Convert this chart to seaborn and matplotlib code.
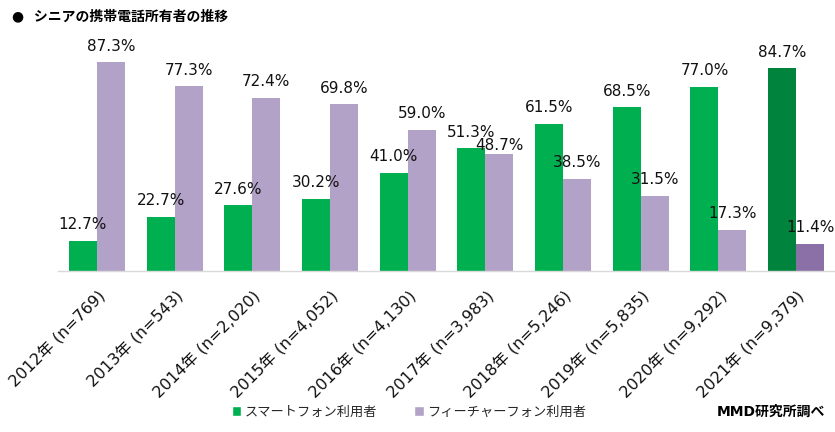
import matplotlib
matplotlib.use("Agg")
import matplotlib.pyplot as plt
import seaborn as sns
import pandas as pd
from matplotlib.patches import Patch

# データ（MMD研究所調べ）
years = ["2012年 (n=769)", "2013年 (n=543)", "2014年 (n=2,020)", "2015年 (n=4,052)",
         "2016年 (n=4,130)", "2017年 (n=3,983)", "2018年 (n=5,246)", "2019年 (n=5,835)",
         "2020年 (n=9,292)", "2021年 (n=9,379)"]
smartphone = [12.7, 22.7, 27.6, 30.2, 41.0, 51.3, 61.5, 68.5, 77.0, 84.7]
featurephone = [87.3, 77.3, 72.4, 69.8, 59.0, 48.7, 38.5, 31.5, 17.3, 11.4]
series_names = ["スマートフォン利用者", "フィーチャーフォン利用者"]

GREEN = "#00B050"
PURPLE = "#B3A2C7"
GREEN_DARK = "#00843D"
PURPLE_DARK = "#8B70A8"

sns.set_theme(style="white")
plt.rcParams["font.family"] = ["DejaVu Sans", "Noto Sans CJK JP"]

df = pd.DataFrame({
    "年": years * 2,
    "割合": smartphone + featurephone,
    "種別": [series_names[0]] * len(years) + [series_names[1]] * len(years),
})

fig = plt.figure(figsize=(8.35, 4.32), dpi=100)
ax = fig.add_axes([0.0695, 0.3727, 0.9305, 0.5543])

sns.barplot(data=df, x="年", y="割合", hue="種別", palette=[GREEN, PURPLE],
            width=0.72, saturation=1, linewidth=0, legend=False, ax=ax)

# 2021年だけ濃い色で強調
ax.containers[0][-1].set_facecolor(GREEN_DARK)
ax.containers[1][-1].set_facecolor(PURPLE_DARK)

# 値ラベル（2017年のフィーチャーフォンは少し下げる）
for k, cont in enumerate(ax.containers):
    for i, bar in enumerate(cont):
        h = bar.get_height()
        dy = 1 if (k == 1 and i == 5) else 6
        ax.annotate(f"{h:.1f}%", (bar.get_x() + bar.get_width() / 2, h),
                    xytext=(0, dy), textcoords="offset points",
                    ha="center", va="bottom", fontsize=11, color="#111111")

ax.set_ylim(0, 100)
ax.set_xlim(-0.5, len(years) - 0.5)
ax.set_xlabel("")
ax.set_ylabel("")
ax.set_yticks([])
for s in ["top", "right", "left"]:
    ax.spines[s].set_visible(False)
ax.spines["bottom"].set_color("#D9D9D9")
ax.spines["bottom"].set_linewidth(1)
ax.tick_params(axis="x", length=0, pad=12)
plt.setp(ax.get_xticklabels(), rotation=45, ha="right", rotation_mode="anchor",
         fontsize=11.5, color="#111111")

# タイトル
fig.text(0.014, 0.963, "●  シニアの携帯電話所有者の推移", fontsize=10, fontweight="bold",
         ha="left", va="center", color="black")

# 凡例
handles = [Patch(facecolor=GREEN), Patch(facecolor=PURPLE)]
fig.legend(handles, series_names, loc="center", bbox_to_anchor=(0.49, 0.046), ncol=2,
           frameon=False, fontsize=9.5, handlelength=0.7, handleheight=0.7,
           handletextpad=0.3, columnspacing=2.8)

fig.text(0.988, 0.046, "MMD研究所調べ", fontsize=10, fontweight="bold",
         ha="right", va="center", color="black")

fig.savefig("out.png", dpi=100)
